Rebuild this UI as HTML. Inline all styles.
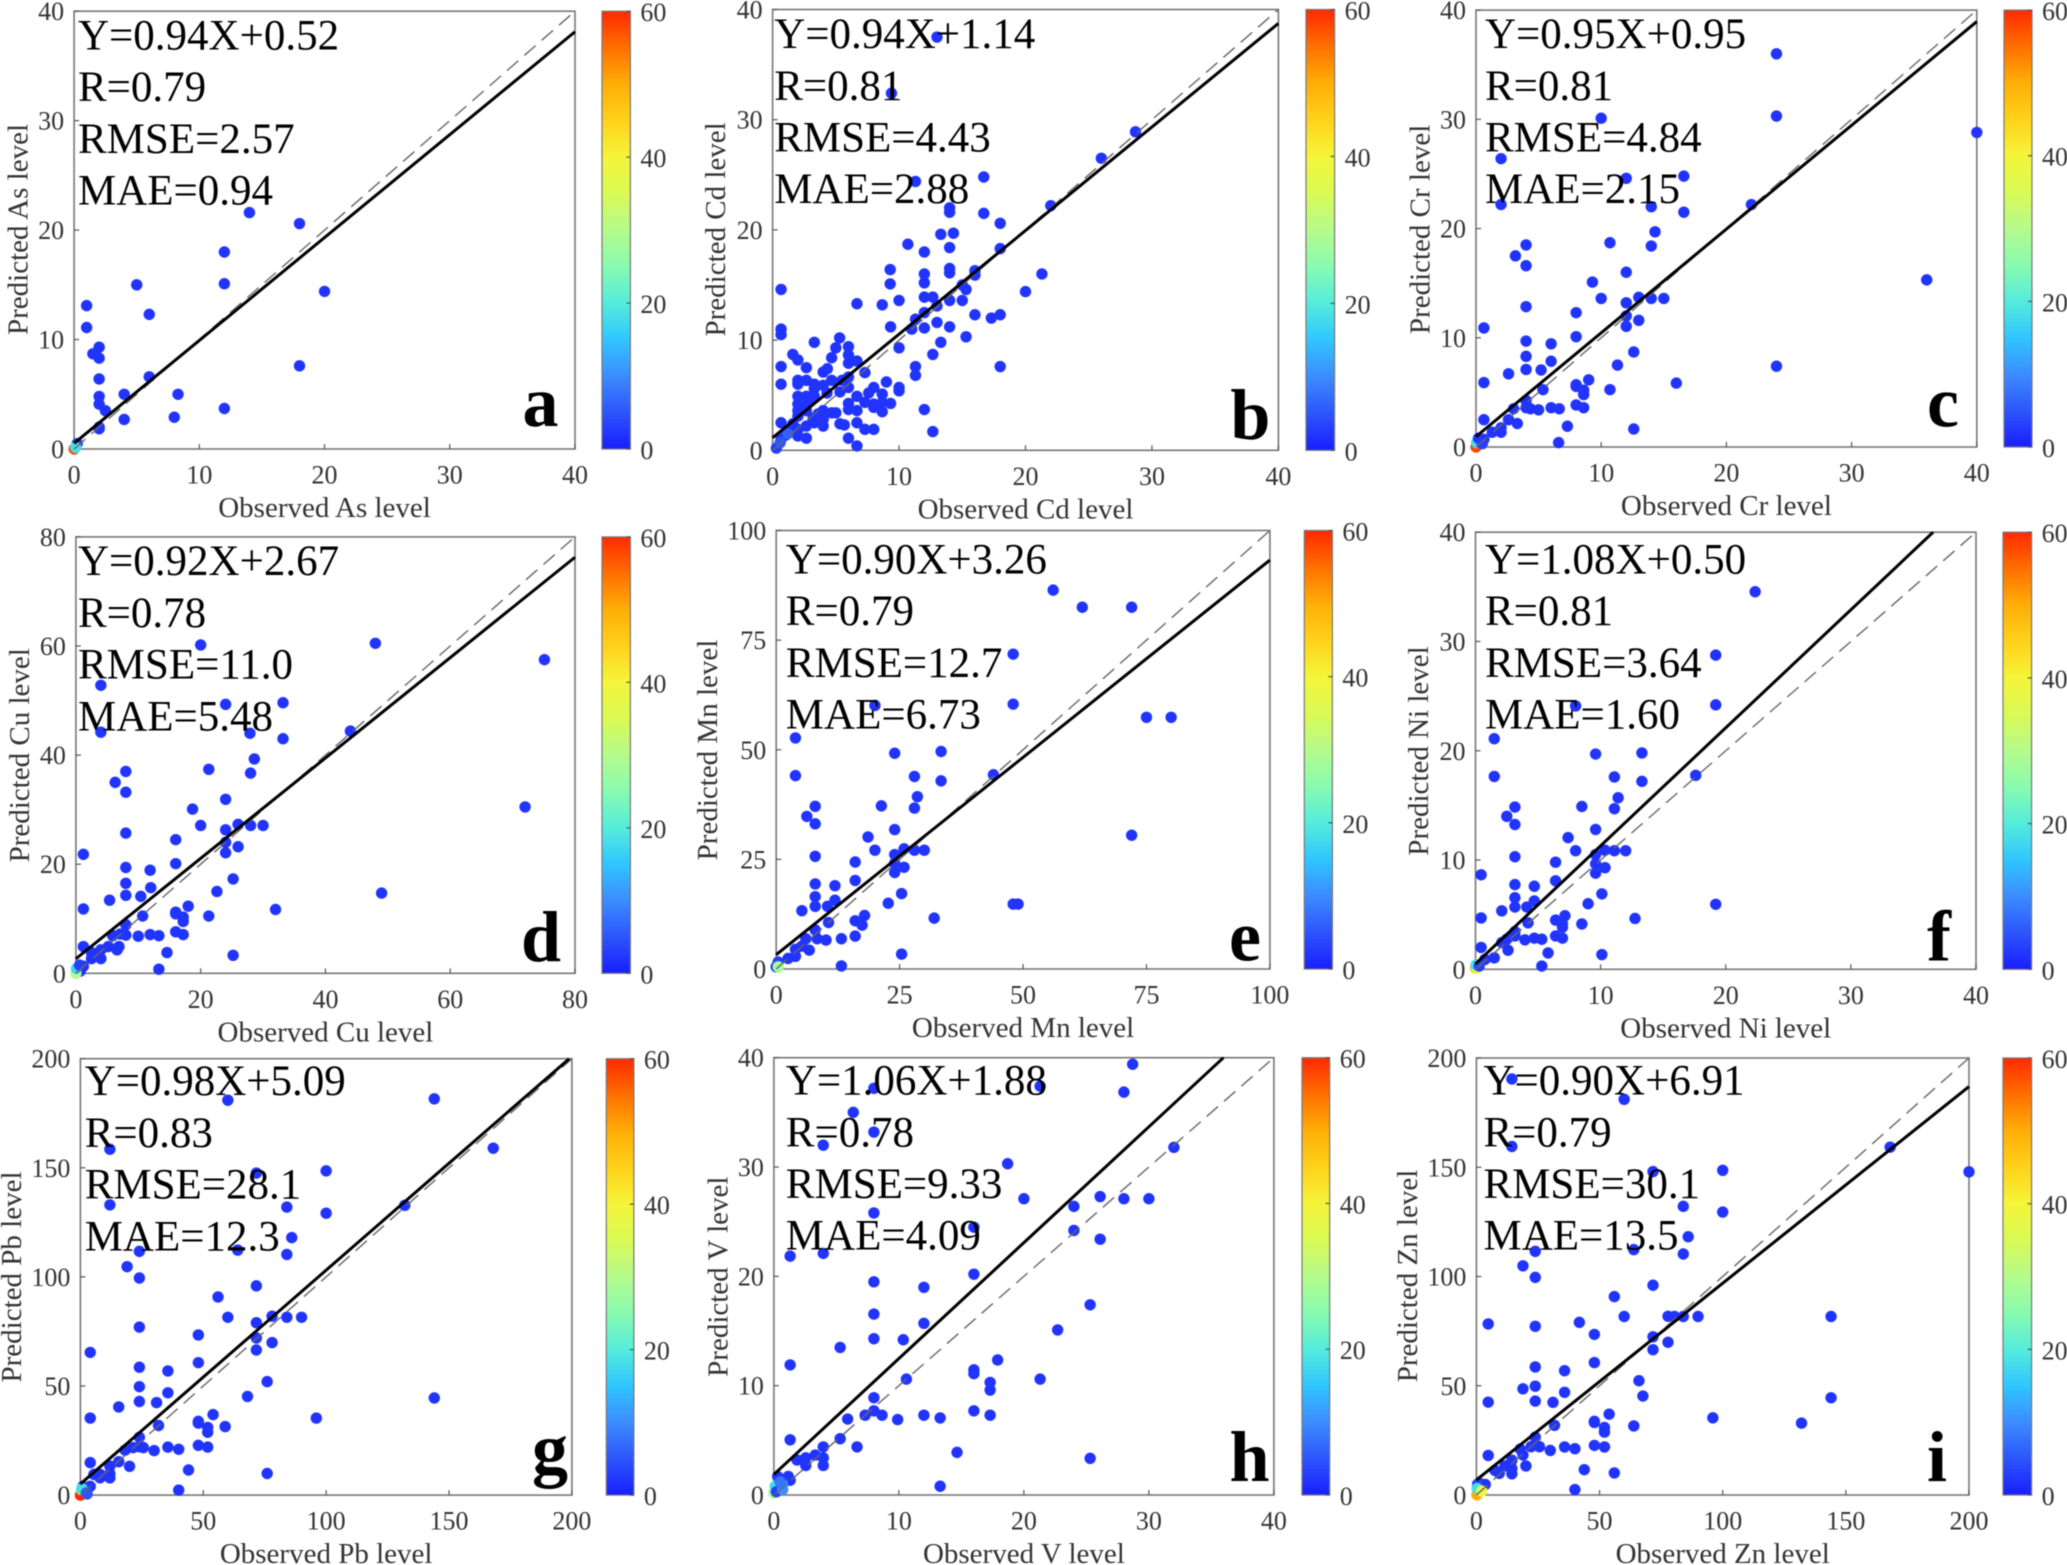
<!DOCTYPE html>
<html lang="en">
<head>
<meta charset="utf-8">
<title>Observed versus predicted heavy metal levels</title>
<style>
html,body{margin:0;padding:0;background:#fff;width:2067px;height:1565px;overflow:hidden}
svg{display:block;filter:blur(0.6px)}
text{font-family:"Liberation Serif",serif}
</style>
</head>
<body>
<svg id="figure" xmlns="http://www.w3.org/2000/svg" width="2067" height="1565" viewBox="0 0 2067 1565">
<defs id="defs"></defs>
</svg>
<script>
// ---------- Data ----------
const asObserved=[14,18,12,12,5,20,6,1,1,2,1.5,2,2,6,18,2,2,4,8.3,2.5,4,8,12,2,2];
const asPredicted=[21.6,20.6,18,15.1,15,14.4,12.3,13.1,11.1,9.3,8.7,8.3,6.4,6.6,7.6,4.8,4.1,5,5,3.5,2.7,2.9,3.7,2,1.85];
const asClusterX=[0,0.25,0.12];
const asClusterY=[0,0.5,0.15];
const asClusterDensity=[58,3,18];

const cdObserved=[13,9.4,28.7,26,11.3,16.7,14,14,16.7,22,18,13.3,14.3,10.7,12,14,18,14,14,9.3,9.3,12,12,16,16,21.3,15,15.3,20,0.67,6.67,8.67,10,12,12.67,13,14,15,12,16,17.3,18,11.3,13,9.33,11,12,14,0.67,0.67,15.3,13.3,10,12.67,3.3,5.3,5,6,4.67,6,6,6.67,1.6,2,0.67,2.67,11.3,11.3,18,4,4.33,7.3,0.67,2,2,2.67,3.3,4.67,5.5,6,6,3.3,4,9,10,10,8,7.6,8.67,6.67,5.33,2,2.67,3.3,2,2.67,8.67,9.33,6,7.3,8,6,6.67,8,8.67,12,2,2,2.67,4,4.67,5,4,3.3,6.67,5.33,5.67,4,2.67,0.67,1.6,7.3,8,12.67,2,2,2.67,6,6.67,0.67,1.07,1.4,3,3.6,4.3,2.3,3.7,3.2];
const cdPredicted=[37.5,32.4,28.9,26.5,24.4,24.8,22,21.6,21.5,22.2,20.6,19.6,19.7,18.7,18,18.4,18.3,16.5,16.1,16.4,15.1,16,15.2,16.3,15.9,16,15,14.6,14.4,14.6,13.3,13.2,13.6,13.9,13.9,13.1,13.6,13.6,12.5,12.3,12,12.3,11.9,11.6,11.2,11,11.1,11.2,11,10.5,10.3,9.8,9.3,8.7,9.8,10.2,9.3,9.4,8.4,8.65,7.9,8.1,8.7,8.2,7.6,7.5,7.6,6.8,7.6,7.1,7.4,7.05,6,6.35,6,6.35,6,6.35,6.35,6.65,5.7,5.6,5.9,6.2,5.7,5.4,5.7,5.2,5.1,4.9,5.3,4.9,4.9,4.9,4.2,4.2,4.35,4.25,4.25,4.35,4.2,3.7,3.6,3.9,3.5,3.7,3.6,3.1,3.6,3.6,3.4,3.4,2.8,2.5,2.5,2.4,2.3,2.2,2.2,2.5,2.4,1.9,1.9,1.7,1.9,1.3,1.1,1.1,0.4,1,1.4,1.75,4.6,3.3,5.2,3.9,2.7,2.9];
const cdClusterX=[0.3,0.6,1.2];
const cdClusterY=[0.2,0.7,1.5];
const cdClusterDensity=[3,5,6];

const crObserved=[24,24,10,2,40,12,16.6,2,14,22,16.6,14.3,4,3.15,4,10.7,14,12,9.3,36,10,13,14,15,12,4,8,12,13,12,0.63,8,4,6,4,6,12.6,11.3,4,5.2,24,2.6,9,0.63,16,8,8,5.35,10.7,8.6,8.6,4,8,8.6,3,4,4.35,5,6,6.65,0.63,2.6,3.3,7.3,12.6,2,2,1.3,6.6,0.63];
const crPredicted=[36,30.3,30.1,26.4,28.8,24.6,24.8,22.2,22,22.2,21.5,19.7,18.5,17.5,16.6,18.7,18.4,16,15.1,15.3,13.6,13.7,13.6,13.6,13.2,12.85,12.3,12,11.6,11.05,10.9,10.1,9.7,9.45,8.3,7.85,8.7,7.5,7.1,7.05,7.4,6.7,6.15,5.9,5.85,5.7,5.55,5.25,5.25,5.2,4.8,4.25,3.85,3.6,3.5,3.6,3.5,3.4,3.6,3.5,2.5,2.5,2.15,1.9,1.65,1.35,1.75,1.35,0.4,0.7];
const crClusterX=[0,0.05,0.2,0.5];
const crClusterY=[0,0.4,0.8,0.3];
const crClusterDensity=[58,18,2,3];

const cuObserved=[20,48,75.1,4,24,33.2,4,27.9,33.2,44,28.6,21.3,8,6.3,8,28,24,18.7,72,20,26,28,30,24,8,16,24,26,24,1.2,16,8,11.9,8,12,25.2,22.6,8,10.4,5.4,49,18,1.2,32,16,16,10.7,21.3,17.2,17.2,8,16,17.2,11.9,13.3,10,8,5.9,7.1,6.9,6.6,5.2,4,1.2,4,2.5,2.5,14.6,25.2,13.3,1.2,0.7];
const cuPredicted=[60.2,60.5,57.5,52.8,49.3,49.6,44.2,44,43,44.4,39.3,37.4,37,35,33.2,36.7,31.9,30.1,30.5,27.1,27.3,27.1,27.1,26.3,25.7,24.5,24,23.2,22.1,21.8,20.1,19.4,18.9,16.5,15.7,17.3,15,14.3,14.1,13.4,14.7,12.3,11.8,11.7,11.2,10.9,10.5,10.5,10.3,9.5,8.9,7.6,7.1,7.1,6.9,6.8,7,6.9,7.2,4.9,4.3,4.9,4.3,4.9,2.7,2.7,3.8,3.8,3.3,0.75,1.3,0.4];
const cuClusterX=[0,0.1,0.6];
const cuClusterY=[0,0.9,1.5];
const cuClusterDensity=[30,17,3];

const mnObserved=[56.1,62,72,48,48,20,75,80,3.9,24,33.4,3.9,28,33.4,44,28.6,21.3,7.9,6.2,7.9,28,24,18.6,72,20,25.9,28,30,24,7.9,16,24,25.9,24,16,7.9,11.9,25.4,7.9,11.9,22.7,48,49,7.9,10.4,5.2,17.9,32,16,10.6,17.4,7.9,16,13.2,10.1,8.3,6,6.7,5.2,3.9,3.9,2.4,25.4,13.2];
const mnPredicted=[86.4,82.5,82.5,71.8,60.4,60.1,57.4,57.4,52.7,49.2,49.6,44.1,43.9,42.9,44.3,39.3,37.2,37.1,34.8,33.1,36.7,31.8,30.1,30.5,27.1,27.4,27.1,27.1,26.1,25.7,24.4,24.1,23.2,22,20.2,19.4,19,17.2,16.5,15.7,15,14.8,14.8,14.3,14.3,13.3,12.2,11.6,11,10.6,10,8.9,7.5,6.9,6.6,6.9,6.9,4.3,5.2,4.5,2.9,2.4,3.4,0.7];
const mnClusterX=[0,0.4,0.4];
const mnClusterY=[0.5,1.6,0.5];
const mnClusterDensity=[2,3,28];

const niObserved=[22.35,19.2,19.2,8,1.5,9.6,13.3,1.5,17.6,11.1,13.3,11.4,3.15,8.5,11.1,2.5,3.15,9.6,7.4,8,10.35,11.1,12,3.15,9.6,9.6,6.4,10.35,9.6,0.45,6.4,3.15,4.7,10.1,3.15,4.7,9,19.2,3.15,4.1,2.1,7.15,0.45,6.4,6.95,6.95,12.75,4.2,8.5,3.15,3.15,2.5,3.95,4.7,5.3,6.4,6.95,0.45,2.1,2.6,5.8,10.1,1.5,5.3,0.75];
const niPredicted=[34.55,28.75,24.2,24.1,21.1,19.7,19.8,17.65,17.75,17.6,17.2,15.7,14.85,14.9,14.7,14,13.25,12.8,12.05,10.85,10.9,10.85,10.85,10.3,10.5,9.65,9.8,9.3,8.8,8.65,8.1,7.75,7.6,6.9,6.55,6.25,6,5.95,5.7,5.7,5.35,4.9,4.7,4.5,4.15,3.85,4.65,4.25,4.15,3.45,3.05,2.75,2.7,2.85,2.75,3.05,2.85,2,2.45,1.75,1.5,1.35,1.05,0.3,0.9];
const niClusterX=[0,0.1,0.05,0.3];
const niClusterY=[0.1,0.1,0.4,0.3];
const niClusterDensity=[48,38,18,3];

const pbObserved=[144,60,12,168,71.6,100,12,132,84,100,86,24,64,84,19,24,71.6,56,60,78,84,90,71.6,24,48,71.6,78,71.6,4,48,24,35.6,76,24,35.6,68,144,24,31,15.6,54,4,96,48,48,31.8,58.9,51.8,51.8,24,48,51.8,24,25.6,21.4,30,35.6,40,18.2,15.6,4,20,12,44,76,12,12,8,8,5.5,40,4,2.7];
const pbPredicted=[181.6,181,158.5,159,147.6,148.6,133,132.8,132,129.2,118,111.7,112.3,110.3,104.7,99.5,95.9,90.8,81.5,82,81.5,81.5,79,77,73.4,72,69.9,66.5,65.4,60.7,58.6,56.9,52,49.7,46.9,45.2,44.5,42.9,42.4,40.4,36.9,35.3,35.3,33.8,33,31.9,31.4,31,28.8,26.5,22.8,22,22.2,21.8,21.8,20.4,22,21,20.6,15.3,14.9,13.2,13.3,11.5,9.9,9.8,7.9,9.5,7.9,9.5,2.3,4,0.6];
const pbClusterX=[0,1,0.4,0.6,2.5];
const pbClusterY=[0,4,2.5,3,1];
const pbClusterDensity=[60,3,25,18,5];

const vObserved=[28.7,8,21.3,28,6.35,8,3.95,32,18.7,20,26.1,28,30,24,8,16,24,26.1,3.95,1.3,16,8,12,25.3,8,12,22.7,8,10.35,5.3,1.3,17.9,16,16,10.6,21.3,17.3,17.3,8,8,16,7.3,8.65,12,17.3,5.9,9.9,13.3,1.3,5.3,3.95,6.65,14.65,25.3,3.95,3.3,2.55,1.85,3.95,2.55,13.3,1.3,1.15,0.3];
const vPredicted=[39.4,37.2,37.4,36.85,35,33.2,32,31.8,30.3,27.1,27.3,27.1,27.1,26.4,25.8,24.5,24.2,23.4,22.1,21.85,20.2,19.5,19,17.4,16.55,15.7,15.1,14.3,14.2,13.5,11.9,12.35,11.45,11.1,10.6,10.6,10.3,9.6,8.9,7.7,7.7,7.3,7.3,7.3,7.3,6.95,6.9,7.05,5.05,5.15,4.4,4.4,3.9,3.35,3.4,3.65,3.4,3.2,2.7,2.7,0.8,1.35,1.7,1.7];
const vClusterX=[0,0.1,0.2,0.7,0.7,0.5];
const vClusterY=[0.2,0.8,0.3,0.5,1,1.2];
const vClusterDensity=[28,18,3,10,9,8];

const znObserved=[14.4,60,14.4,168,71.7,100,200,84,100,86,23.9,63.9,84,18.9,23.9,71.7,56,60,77.8,80.4,84,90,144,4.8,23.9,41.8,47.9,71.7,77.8,71.7,47.9,23.9,35.8,66,23.9,18.9,35.8,67.6,144,23.9,4.8,31.1,53.9,96,47.9,47.9,132,31.7,63.9,52,52,23.9,47.9,52,35.8,40,22.2,25.6,30,17.8,18.9,4.8,14.4,20.1,14.4,11.6,14.4,7.5,9.3,43.8,56,40,3.6,1.8];
const znPredicted=[190.4,181.1,159.5,159.2,148,148.6,147.9,132.1,129.5,118.2,111.5,112.3,110.3,104.9,99.6,96,90.8,81.7,81.8,81.7,81.7,81.7,81.7,78.3,77.2,79,73.5,72.4,69.9,66.5,60.6,58.6,56.9,52.3,49.8,48.6,47,45.3,44.5,43,42.5,42.4,37,35.3,33.7,33.2,32.9,31.9,31.6,30.9,28.8,26.5,22.7,22,22,21.2,22.1,22.1,20.4,21,18.3,18.1,15.9,13.3,12.2,13.3,9.7,11.3,9.9,11.6,10.1,2.5,4.8,5.1];
const znClusterX=[0.5,0.2,0.3,2.2];
const znClusterY=[5,0.1,3,1.8];
const znClusterDensity=[3,50,18,38];

const slopes=[0.94,0.94,0.95,0.92,0.90,1.08,0.98,1.06,0.90];
const intercepts=[0.52,1.14,0.95,2.67,3.26,0.50,5.09,1.88,6.91];
const equationLabels=["Y=0.94X+0.52","Y=0.94X+1.14","Y=0.95X+0.95","Y=0.92X+2.67","Y=0.90X+3.26","Y=1.08X+0.50","Y=0.98X+5.09","Y=1.06X+1.88","Y=0.90X+6.91"];
const rLabels=["R=0.79","R=0.81","R=0.81","R=0.78","R=0.79","R=0.81","R=0.83","R=0.78","R=0.79"];
const rmseLabels=["RMSE=2.57","RMSE=4.43","RMSE=4.84","RMSE=11.0","RMSE=12.7","RMSE=3.64","RMSE=28.1","RMSE=9.33","RMSE=30.1"];
const maeLabels=["MAE=0.94","MAE=2.88","MAE=2.15","MAE=5.48","MAE=6.73","MAE=1.60","MAE=12.3","MAE=4.09","MAE=13.5"];
const panelLetters=["a","b","c","d","e","f","g","h","i"];
const xAxisTitles=["Observed As level","Observed Cd level","Observed Cr level","Observed Cu level","Observed Mn level","Observed Ni level","Observed Pb level","Observed V level","Observed Zn level"];
const yAxisTitles=["Predicted As level","Predicted Cd level","Predicted Cr level","Predicted Cu level","Predicted Mn level","Predicted Ni level","Predicted Pb level","Predicted V level","Predicted Zn level"];
const ticks40=[0,10,20,30,40];
const ticks80=[0,20,40,60,80];
const ticks100=[0,25,50,75,100];
const ticks200=[0,50,100,150,200];
const colorbarTicks=[0,20,40,60];
const colorbarMax=60;

const observedSeries=[asObserved,cdObserved,crObserved,cuObserved,mnObserved,niObserved,pbObserved,vObserved,znObserved];
const predictedSeries=[asPredicted,cdPredicted,crPredicted,cuPredicted,mnPredicted,niPredicted,pbPredicted,vPredicted,znPredicted];
const clusterXSeries=[asClusterX,cdClusterX,crClusterX,cuClusterX,mnClusterX,niClusterX,pbClusterX,vClusterX,znClusterX];
const clusterYSeries=[asClusterY,cdClusterY,crClusterY,cuClusterY,mnClusterY,niClusterY,pbClusterY,vClusterY,znClusterY];
const clusterDensitySeries=[asClusterDensity,cdClusterDensity,crClusterDensity,cuClusterDensity,mnClusterDensity,niClusterDensity,pbClusterDensity,vClusterDensity,znClusterDensity];
const axisTicks=[ticks40,ticks40,ticks40,ticks80,ticks100,ticks40,ticks200,ticks40,ticks200];

// ---------- Layout (pixel geometry, separate from the data) ----------
const layouts=[
 {l:74.1,r:575,t:11.2,b:449,cl:602,cr:630.4,sx:78,sy:49.4,lx:522.5,ly:426,yx:27.7,yc:229.5},
 {l:772.6,r:1278.4,t:9.5,b:450.3,cl:1306,cr:1334.6,sx:774.2,sy:48.1,lx:1230.4,ly:438.8,yx:724.8,yc:229.4},
 {l:1476,r:1976.8,t:10.1,b:447,cl:2004,cr:2032,sx:1485,sy:48.1,lx:1927,ly:426.6,yx:1429.5,yc:229.4},
 {l:75.9,r:575,t:536.9,b:973.3,cl:602,cr:630.4,sx:78,sy:575.2,lx:521,ly:961.2,yx:29,yc:755.3},
 {l:776.2,r:1269.9,t:530.5,b:969,cl:1304.3,cr:1332.4,sx:785.8,sy:573.5,lx:1229,ly:960.5,yx:716.8,yc:750},
 {l:1475.5,r:1976,t:532.2,b:969.3,cl:2003,cr:2031.6,sx:1485,sy:573.5,lx:1927,ly:960.5,yx:1428.2,yc:751},
 {l:80.4,r:571.9,t:1058.7,b:1495.1,cl:606.3,cr:633.9,sx:84.7,sy:1095.2,lx:532,ly:1473,yx:21,yc:1277},
 {l:773.9,r:1273.9,t:1057.7,b:1495,cl:1302,cr:1329.7,sx:785.8,sy:1094.6,lx:1229.5,ly:1481,yx:727.5,yc:1276.7},
 {l:1476.4,r:1969,t:1058,b:1495,cl:2003,cr:2031.6,sx:1483.5,sy:1094.6,lx:1927,ly:1481,yx:1417.2,yc:1276}
];
const colorStops=[[0,25,30,255],[5,45,85,252],[10,60,140,255],[15,48,198,255],[20,85,236,220],[25,136,251,176],[30,181,251,140],[35,218,250,85],[40,245,245,58],[45,255,210,26],[50,255,174,8],[55,255,111,0],[60,255,42,0]];
const NS="http://www.w3.org/2000/svg";
const svg=document.getElementById("figure");
const defs=document.getElementById("defs");

function densityColor(v){
  for(let i=1;i<colorStops.length;i++){
    if(v<=colorStops[i][0]){
      const a=colorStops[i-1],b=colorStops[i],f=(v-a[0])/(b[0]-a[0]);
      return "rgb("+[1,2,3].map(k=>Math.round(a[k]+(b[k]-a[k])*f)).join(",")+")";
    }
  }
  return "rgb(255,42,0)";
}
function setAttrs(el,attrs){for(const k in attrs)el.setAttribute(k,attrs[k]);return el;}
function make(tag,attrs,parent,content){
  const el=setAttrs(document.createElementNS(NS,tag),attrs);
  if(content!==undefined)el.textContent=content;
  parent.appendChild(el);
  return el;
}

// Shared colorbar gradient
const gradient=make("linearGradient",{id:"jet",x1:0,y1:1,x2:0,y2:0},defs);
colorStops.forEach(s=>{
  make("stop",{offset:s[0]/colorbarMax,"stop-color":"rgb("+s[1]+","+s[2]+","+s[3]+")"},gradient);
});

layouts.forEach((p,i)=>{
  const tickValues=axisTicks[i];
  const axisMax=tickValues[tickValues.length-1];
  const sx=v=>p.l+(v/axisMax)*(p.r-p.l);
  const sy=v=>p.b-(v/axisMax)*(p.b-p.t);
  const cy=v=>p.b-(v/colorbarMax)*(p.b-p.t);
  const letter=panelLetters[i];

  const g=make("g",{},svg);
  
  

  const frame=make("rect",{x:p.l,y:p.t,width:p.r-p.l,height:p.b-p.t,fill:"#fff",stroke:"#777","stroke-width":1.6},g);
  
  

  tickValues.forEach(t=>{
    const xt=make("line",{x1:sx(t),x2:sx(t),y1:p.b,y2:p.b-5,stroke:"#555","stroke-width":1.2},g);
    
    
    const yt=make("line",{x1:p.l,x2:p.l+5,y1:sy(t),y2:sy(t),stroke:"#555","stroke-width":1.2},g);
    
    
    const xl=make("text",{x:sx(t),y:p.b+34.5,"text-anchor":"middle","font-size":26,fill:"#333"},g,String(t));
    
    
    const yl=make("text",{x:p.l-10,y:sy(t)+9,"text-anchor":"end","font-size":26,fill:"#333"},g,String(t));
    
    
  });

  const xTitle=make("text",{x:(p.l+p.r)/2,y:p.b+68,"text-anchor":"middle","font-size":29,fill:"#333"},g,xAxisTitles[i]);
  
  
  const yTitle=make("text",{x:0,y:0,transform:"translate("+p.yx+","+p.yc+") rotate(-90)","text-anchor":"middle","font-size":29,fill:"#333"},g,yAxisTitles[i]);
  
  

  const xs=observedSeries[i],ys=predictedSeries[i];
  xs.forEach((x,k)=>{
    const pt=make("circle",{cx:sx(x),cy:sy(ys[k]),r:5.7,fill:densityColor(2)},g);
    
    
  });
  clusterXSeries[i].forEach((x,k)=>{
    const pt=make("circle",{cx:sx(x),cy:sy(clusterYSeries[i][k]),r:5.7,fill:densityColor(clusterDensitySeries[i][k])},g);
    
    
  });

  const identity=make("line",{x1:sx(0),y1:sy(0),x2:sx(axisMax),y2:sy(axisMax),stroke:"#666","stroke-width":1.4,"stroke-dasharray":"15 8"},g);
  
  

  const m=slopes[i],c=intercepts[i];
  const endX=Math.min(axisMax,(axisMax-c)/m);
  const fit=make("line",{x1:sx(0),y1:sy(c),x2:sx(endX),y2:sy(m*endX+c),stroke:"#000","stroke-width":3},g);
  
  

  [equationLabels[i],rLabels[i],rmseLabels[i],maeLabels[i]].forEach((s,k)=>{
    const st=make("text",{x:p.sx,y:p.sy+k*51.7,"font-size":43,fill:"#000"},g,s);
    
    
  });

  const pl=make("text",{x:p.lx,y:p.ly,"font-size":72,"font-weight":"bold",fill:"#000"},g,letter);
  
  

  const bar=make("rect",{x:p.cl,y:p.t,width:p.cr-p.cl,height:p.b-p.t,fill:"url(#jet)",stroke:"#777","stroke-width":1.2},g);
  
  
  colorbarTicks.forEach(t=>{
    const ct=make("line",{x1:p.cr-4,x2:p.cr,y1:cy(t),y2:cy(t),stroke:"#555","stroke-width":1.2},g);
    
    
    const cl=make("text",{x:p.cr+10,y:cy(t)+10,"font-size":26,fill:"#333"},g,String(t));
    
    
  });
});
</script>
</body>
</html>
